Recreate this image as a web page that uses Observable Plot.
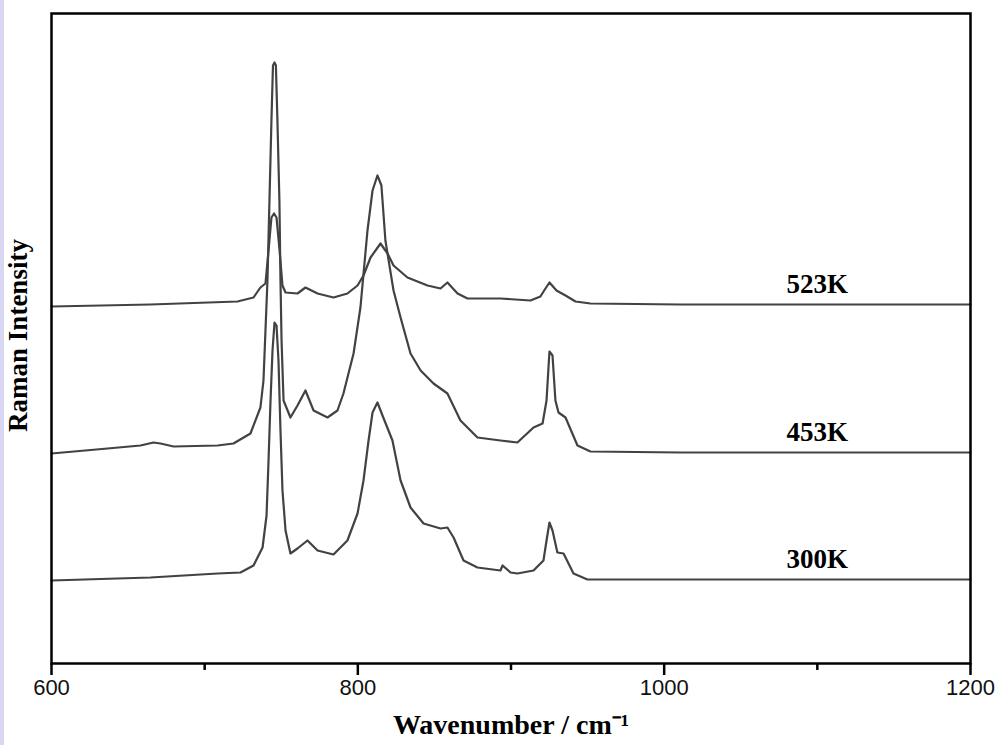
<!DOCTYPE html>
<html><head><meta charset="utf-8">
<script src="https://cdn.jsdelivr.net/npm/d3@7"></script>
<script src="https://cdn.jsdelivr.net/npm/@observablehq/plot@0.6"></script>
<style>
html,body{margin:0;padding:0;background:#fff;}
#chart{position:relative;width:1000px;height:745px;}
#chart svg{overflow:visible;}
#strip{position:absolute;left:0;top:0;width:4px;height:745px;background:#d8d6f3;}
</style></head>
<body><div id="chart"><div id="strip"></div></div>
<script>
// Raman spectra (arbitrary intensity units, curves already stacked vertically)
const seriesNames = ["523K", "453K", "300K"];

const wave523 = [600, 664.6, 721.4, 731.9, 736.4, 739.7, 741.7, 743.6, 745.3, 746.9, 748.9, 750.8, 752.8, 760.6, 765.8, 773.7, 784.1, 793.2, 799.8, 803.7, 808.3, 814.8, 819.4, 823.3, 832.4, 845.5, 854.0, 858.5, 865.1, 871.6, 893.1, 912.7, 919.2, 922.5, 925.1, 929.7, 935.6, 942.1, 951.9, 1010.7, 1200];
const int523  = [357, 359, 362, 366, 376, 380, 413, 446, 450, 446, 413, 378, 371, 370, 376, 370, 366, 370, 378, 388, 406, 420, 410, 398, 386, 378, 375, 381, 370, 365, 365, 363, 367, 375, 381, 373, 368, 362, 360, 359, 359];

const wave453 = [600, 636.6, 658.1, 666.6, 671.2, 679.7, 708.4, 718.8, 729.9, 736.4, 738.4, 739.7, 741.0, 742.3, 743.6, 744.6, 745.6, 746.5, 747.5, 748.8, 749.5, 750.2, 751.5, 756.0, 760.6, 765.8, 771.1, 780.2, 786.7, 790.6, 797.2, 801.7, 806.3, 809.6, 812.8, 815.4, 818.0, 823.3, 827.9, 834.4, 841.0, 849.4, 858.5, 867.0, 878.1, 893.1, 904.2, 914.7, 920.6, 923.2, 925.1, 927.1, 929.0, 931.0, 935.6, 943.4, 951.9, 1010.7, 1200];
const int453  = [210, 215, 218, 221, 220, 217, 218, 220, 230, 256, 283, 333, 383, 463, 543, 598, 601, 598, 543, 463, 383, 323, 263, 246, 258, 273, 253, 246, 253, 270, 310, 356, 433, 473, 488, 478, 423, 373, 346, 310, 293, 280, 270, 243, 226, 223, 221, 236, 240, 263, 312, 308, 263, 251, 246, 218, 212, 211, 211];

const wave300 = [600, 664.6, 708.4, 723.4, 731.9, 737.8, 740.4, 741.7, 743.0, 744.3, 745.6, 746.9, 748.2, 749.5, 750.8, 752.8, 756.0, 760.6, 767.1, 773.7, 784.1, 793.2, 799.8, 803.7, 807.0, 809.6, 812.8, 816.1, 822.6, 827.9, 834.4, 842.9, 854.0, 858.5, 862.5, 869.0, 878.1, 893.1, 894.5, 899.7, 904.2, 914.7, 921.2, 923.2, 925.1, 927.1, 930.3, 934.3, 940.8, 949.9, 1010.7, 1200];
const int300  = [83, 86, 90, 91, 98, 116, 148, 203, 263, 313, 341, 338, 303, 233, 173, 133, 110, 115, 123, 113, 109, 123, 150, 183, 223, 251, 261, 248, 223, 183, 156, 140, 135, 136, 126, 103, 96, 93, 98, 91, 90, 93, 103, 123, 141, 133, 111, 110, 90, 84, 84, 84];

const xTicksMajor = [600, 800, 1000, 1200];
const xTicksMinor = [700, 900, 1100];
const labelWave = 1100;

const waves = [wave523, wave453, wave300];
const ints = [int523, int453, int300];
const rows = [];
seriesNames.forEach((name, k) => {
  waves[k].forEach((w, j) => rows.push({series: name, w, i: ints[k][j]}));
});
const labels = seriesNames.map((name, k) => ({name, w: labelWave, i: ints[k][ints[k].length - 1] + 20}));

const serif = "'Liberation Serif','Times New Roman',serif";
const sans = "'Liberation Sans',Arial,sans-serif";

const plot = Plot.plot({
  width: 1000,
  height: 745,
  marginLeft: 51,
  marginRight: 30,
  marginTop: 13,
  marginBottom: 82,
  x: {domain: [600, 1200], label: null},
  y: {domain: [0, 650], axis: null},
  marks: [
    Plot.line(rows, {x: "w", y: "i", z: "series", stroke: "#424242", strokeWidth: 2.2}),
    Plot.text(labels, {x: "w", y: "i", text: "name", fontFamily: serif, fontWeight: "bold", fontSize: 27, fill: "#000"}),
    Plot.axisX({ticks: xTicksMajor, tickSize: 12, strokeWidth: 2.5, tickFormat: () => "", label: null}),
    Plot.axisX({ticks: xTicksMinor, tickSize: 7, strokeWidth: 2.5, tickFormat: () => "", label: null}),
    Plot.text(xTicksMajor, {x: d => d, text: d => String(d), frameAnchor: "bottom", dy: 31, fontFamily: sans, fontSize: 22, fill: "#111"}),
    Plot.frame({stroke: "#000", strokeWidth: 2.5}),
    Plot.text(["Wavenumber / cm⁻¹"], {frameAnchor: "bottom", dy: 70, fontFamily: serif, fontWeight: "bold", fontSize: 28, fill: "#000"}),
    Plot.text(["Raman Intensity"], {frameAnchor: "left", textAnchor: "middle", rotate: -90, dx: -33, dy: -3, fontFamily: serif, fontWeight: "bold", fontSize: 27, fill: "#000"})
  ]
});
document.getElementById("chart").appendChild(plot);
</script>
</body></html>
